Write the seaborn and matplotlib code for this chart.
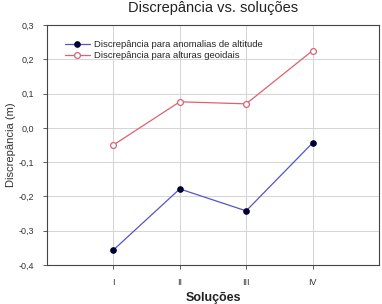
import pandas as pd
import matplotlib.pyplot as plt
import seaborn as sns

# Dados
solucoes = ['I', 'II', 'III', 'IV']
anomalias_altitude = [-0.356, -0.178, -0.242, -0.044]
alturas_geoidais = [-0.050, 0.076, 0.070, 0.225]
yticks = [-0.4, -0.3, -0.2, -0.1, 0.0, 0.1, 0.2, 0.3]
yticklabels = ['-0,4', '-0,3', '-0,2', '-0,1', '0,0', '0,1', '0,2', '0,3']

serie1 = 'Discrepância para anomalias de altitude'
serie2 = 'Discrepância para alturas geoidais'

dados = pd.DataFrame({
    'pos': list(range(1, len(solucoes) + 1)) * 2,
    'valor': anomalias_altitude + alturas_geoidais,
    'serie': [serie1] * len(solucoes) + [serie2] * len(solucoes),
})

sns.set_style('white')
plt.rcParams['font.family'] = ['Liberation Sans', 'DejaVu Sans']

fig = plt.figure(figsize=(3.82, 3.04), dpi=100)
ax = fig.add_axes([0.123, 0.128, 0.869, 0.79])

sns.lineplot(data=dados[dados['serie'] == serie1], x='pos', y='valor', ax=ax,
             color='#5555c8', lw=0.9, marker='o', markersize=4,
             markerfacecolor='#000033', markeredgecolor='#000033', label=serie1)
sns.lineplot(data=dados[dados['serie'] == serie2], x='pos', y='valor', ax=ax,
             color='#e06070', lw=0.9, marker='o', markersize=4.2,
             markerfacecolor='white', markeredgecolor='#e06070', markeredgewidth=0.9,
             label=serie2)

ax.set_xlim(0, len(solucoes) + 1)
ax.set_ylim(-0.4, 0.3)
ax.set_xticks(range(1, len(solucoes) + 1))
ax.set_xticklabels(solucoes, fontsize=6.5, color='#333333')
ax.set_yticks(yticks)
ax.set_yticklabels(yticklabels, fontsize=6.5, color='#333333')
ax.tick_params(axis='both', direction='out', length=3, width=0.6, color='#444444', pad=6,
               bottom=True, left=True)
ax.grid(True, color='#d4d4d4', lw=0.7)
ax.set_axisbelow(True)
for s in ax.spines.values():
    s.set_color('#444444')
    s.set_linewidth(0.8)

ax.set_xlabel('Soluções', fontsize=9, fontweight='bold', color='#222222', labelpad=4)
ax.set_ylabel('Discrepância (m)', fontsize=8, color='#333333', labelpad=2)
fig.text(0.557, 1 - 12 / 304, 'Discrepância vs. soluções', ha='center', va='baseline',
         fontsize=10.5, color='#222222')

ax.legend(loc='upper left', bbox_to_anchor=(0.035, 0.965), frameon=False, fontsize=6.8,
          handlelength=2.6, handletextpad=0.4, labelspacing=0.2, borderpad=0.2)

fig.savefig('out.png', dpi=100)
plt.close()
